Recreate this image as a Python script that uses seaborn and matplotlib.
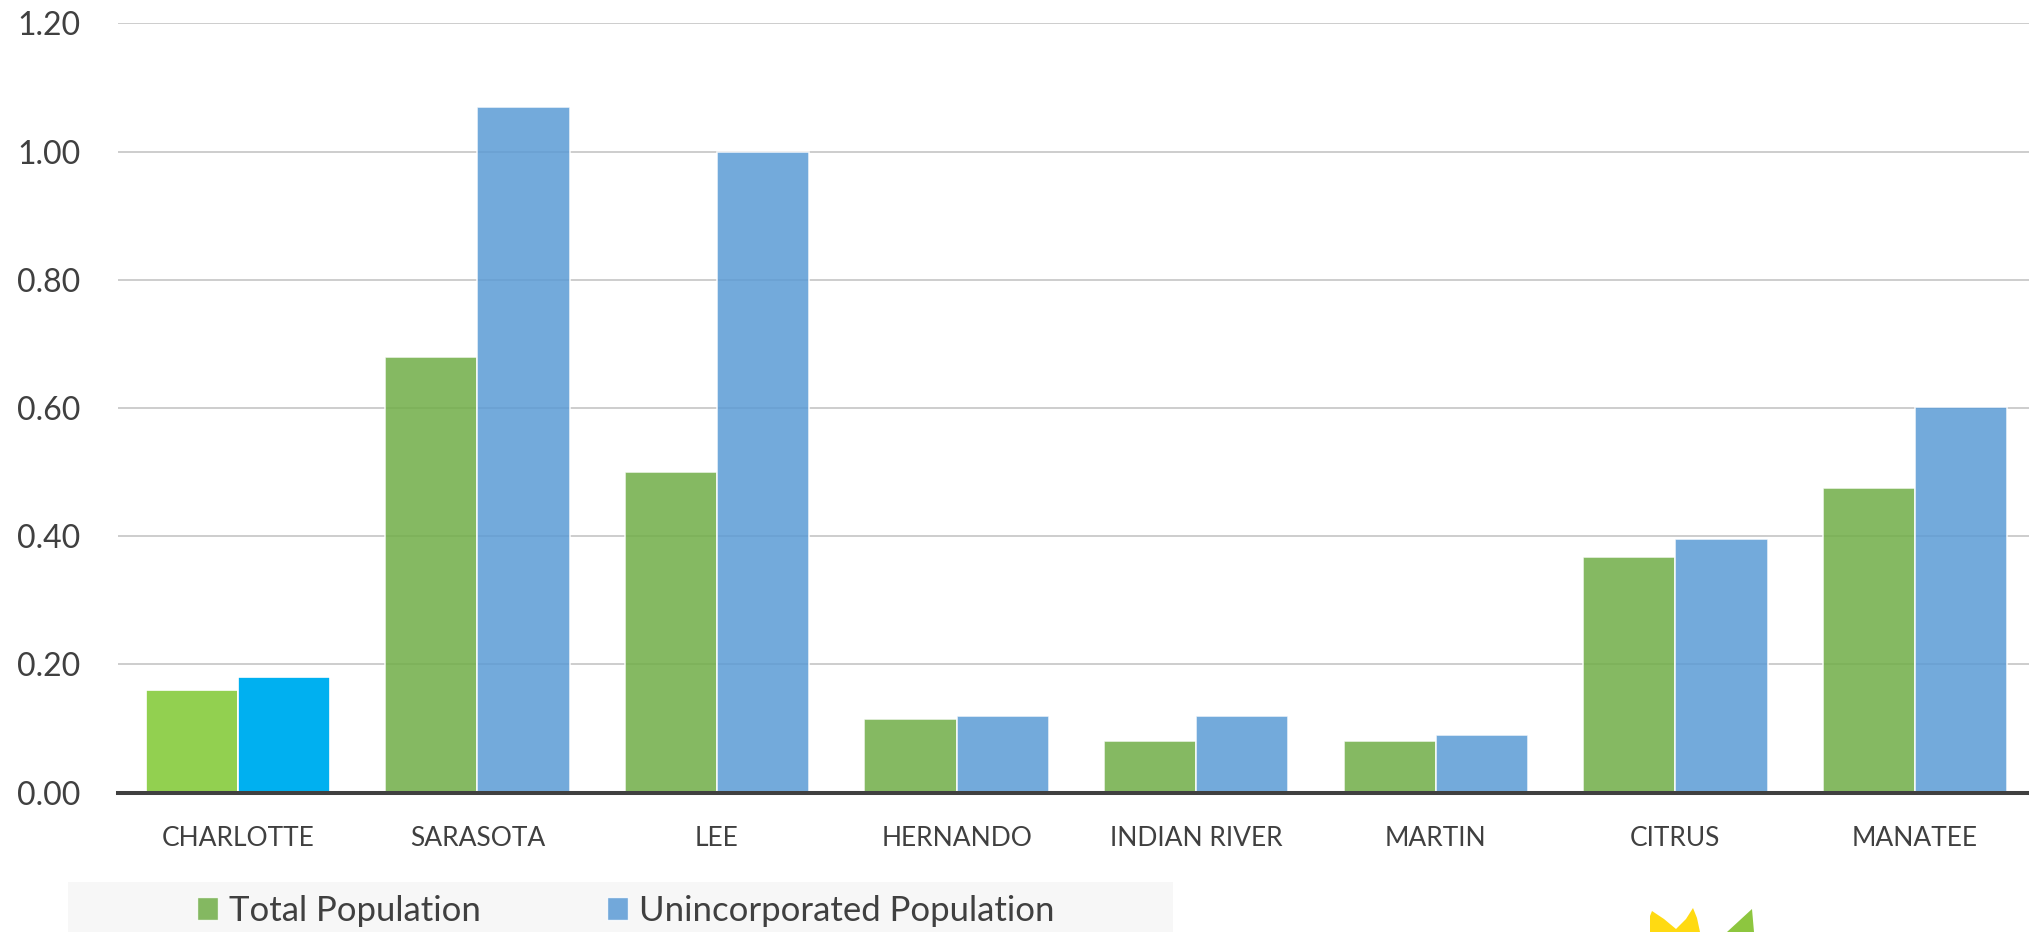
import matplotlib
matplotlib.use("Agg")
import matplotlib.pyplot as plt
from matplotlib.patches import Patch, Rectangle, Polygon
from matplotlib.ticker import FormatStrFormatter
import pandas as pd
import seaborn as sns

# Population ratios by county
counties = ["CHARLOTTE", "SARASOTA", "LEE", "HERNANDO", "INDIAN RIVER",
            "MARTIN", "CITRUS", "MANATEE"]
total_population = [0.16, 0.68, 0.50, 0.115, 0.08, 0.08, 0.367, 0.476]
unincorporated_population = [0.18, 1.07, 1.00, 0.12, 0.12, 0.09, 0.396, 0.602]
series_names = ["Total Population", "Unincorporated Population"]
y_ticks = [0.0, 0.2, 0.4, 0.6, 0.8, 1.0, 1.2]

df = pd.DataFrame({
    "county": counties * 2,
    "series": [series_names[0]] * len(counties) + [series_names[1]] * len(counties),
    "value": total_population + unincorporated_population,
})

sns.set_theme(style="white")
plt.rcParams["font.family"] = ["Lato", "DejaVu Sans"]

W, H = 2029, 932
fig = plt.figure(figsize=(W / 100, H / 100), dpi=100)
ax = fig.add_axes([118 / W, 139.3 / H, 1 - 118 / W, 769.4 / H])

GREEN, BLUE = "#70AD47", "#5B9BD5"
HI_GREEN, HI_BLUE = "#92D050", "#00B0F0"
TEXT = "#404040"

sns.barplot(data=df, x="county", y="value", hue="series", hue_order=series_names,
            palette=[GREEN, BLUE], saturation=1, width=0.77, alpha=0.85,
            legend=False, edgecolor="white", linewidth=1.2, ax=ax, zorder=2)

# Highlight the first county
for cont, col in zip(ax.containers, [HI_GREEN, HI_BLUE]):
    cont[0].set_facecolor(col)
    cont[0].set_alpha(1.0)

# The category axis runs slightly past the right edge of the canvas
ax.set_xlim(-0.5, len(counties) - 0.524)
ax.set_ylim(0, 1.2)
ax.set_yticks(y_ticks)
ax.yaxis.set_major_formatter(FormatStrFormatter("%.2f"))
ax.grid(axis="y", color="#c9c9c9", linewidth=1.3, zorder=0)
ax.grid(axis="x", visible=False)
ax.set_axisbelow(True)
for s in ["left", "top", "right"]:
    ax.spines[s].set_visible(False)
ax.spines["bottom"].set_color(TEXT)
ax.spines["bottom"].set_linewidth(2.9)
ax.spines["bottom"].set_zorder(3)
ax.set_xlabel("")
ax.set_ylabel("")
ax.tick_params(axis="y", length=0, pad=27, labelsize=23, labelcolor=TEXT)
ax.tick_params(axis="x", length=0, pad=24, labelsize=19, labelcolor=TEXT)

# Legend band
fig.patches.append(Rectangle((68 / W, 0), 1105 / W, 50 / H, transform=fig.transFigure,
                             facecolor="#f7f7f7", edgecolor="none", zorder=0))
handles = [Patch(facecolor=GREEN, alpha=0.85, edgecolor="white", linewidth=1),
           Patch(facecolor=BLUE, alpha=0.85, edgecolor="white", linewidth=1)]
leg = fig.legend(handles, series_names, loc="center left",
                 bbox_to_anchor=(197 / W, 21 / H), ncol=2, frameon=False,
                 fontsize=25, handlelength=0.6, handleheight=0.65,
                 handletextpad=0.33, columnspacing=3.62, borderaxespad=0,
                 borderpad=0)
for t in leg.get_texts():
    t.set_color(TEXT)

# Logo fragment in the lower right corner
def fig_pts(pts):
    return [(x / W, (H - y) / H) for x, y in pts]

yellow = [(1650, 932), (1650, 916), (1652, 911), (1664, 919), (1676, 929),
          (1686, 919), (1693, 908), (1697, 918), (1700, 932)]
green = [(1727, 932), (1752, 909), (1754, 932)]
fig.patches.append(Polygon(fig_pts(yellow), closed=True, transform=fig.transFigure,
                           facecolor="#FFDA12", edgecolor="none"))
fig.patches.append(Polygon(fig_pts(green), closed=True, transform=fig.transFigure,
                           facecolor="#8DC63F", edgecolor="none"))

fig.savefig("out.png", dpi=100)
